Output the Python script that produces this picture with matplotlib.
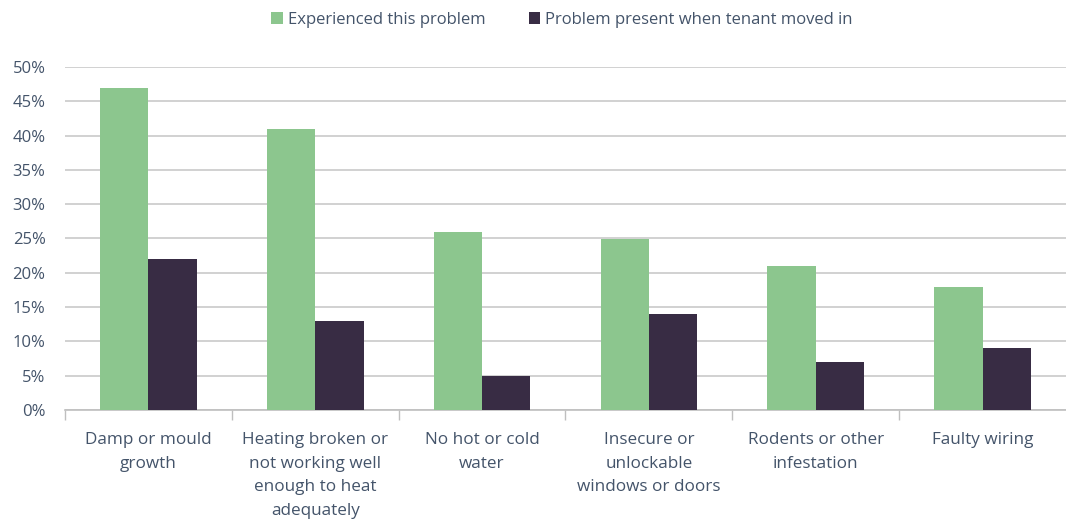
import matplotlib
matplotlib.use("Agg")
import matplotlib.pyplot as plt
import numpy as np
from matplotlib.ticker import FuncFormatter, MultipleLocator

categories = [
    "Damp or mould\ngrowth",
    "Heating broken or\nnot working well\nenough to heat\nadequately",
    "No hot or cold\nwater",
    "Insecure or\nunlockable\nwindows or doors",
    "Rodents or other\ninfestation",
    "Faulty wiring",
]
experienced = [47, 41, 26, 25, 21, 18]
present_at_move_in = [22, 13, 5, 14, 7, 9]
series_labels = ["Experienced this problem", "Problem present when tenant moved in"]

green = "#8CC68E"
dark = "#382C44"
text_color = "#44546A"
grid_color = "#C9C9C9"

plt.rcParams["font.family"] = ["Open Sans", "DejaVu Sans"]

fig = plt.figure(figsize=(10.66, 5.22), dpi=100)
ax = fig.add_axes([65 / 1066, 112 / 522, 1001 / 1066, 343 / 522])

x = np.arange(len(categories))
w = 0.29
ax.bar(x - w / 2, np.array(experienced) / 100, w, color=green, label=series_labels[0], zorder=3)
ax.bar(x + w / 2, np.array(present_at_move_in) / 100, w, color=dark, label=series_labels[1], zorder=3)

ax.set_xlim(-0.5, len(categories) - 0.5)
ax.set_ylim(0, 0.5)
ax.yaxis.set_major_locator(MultipleLocator(0.05))
ax.yaxis.set_major_formatter(FuncFormatter(lambda v, _: f"{v * 100:.0f}%"))
ax.grid(axis="y", color=grid_color, linewidth=1.2, zorder=0)

for s in ["top", "right", "left"]:
    ax.spines[s].set_visible(False)
ax.spines["bottom"].set_color("#BFBFBF")
ax.spines["bottom"].set_linewidth(1.2)

ax.set_xticks(x)
ax.set_xticklabels(categories, fontsize=12.3, color=text_color, linespacing=1.62)
ax.set_xticks(np.arange(len(categories)) - 0.5, minor=True)
ax.tick_params(axis="x", which="major", length=0, pad=16)
ax.tick_params(axis="x", which="minor", length=7, color="#BFBFBF", width=1)
ax.tick_params(axis="y", length=0, labelsize=12, labelcolor=text_color, pad=14)

fig.legend(
    loc="center", bbox_to_anchor=(562 / 1066, 1 - 20 / 522), ncol=2, frameon=False,
    fontsize=12, labelcolor=text_color, handlelength=0.7, handleheight=0.7,
    handletextpad=0.3, columnspacing=2.6,
)

fig.savefig("out.png", dpi=100, facecolor="white")
